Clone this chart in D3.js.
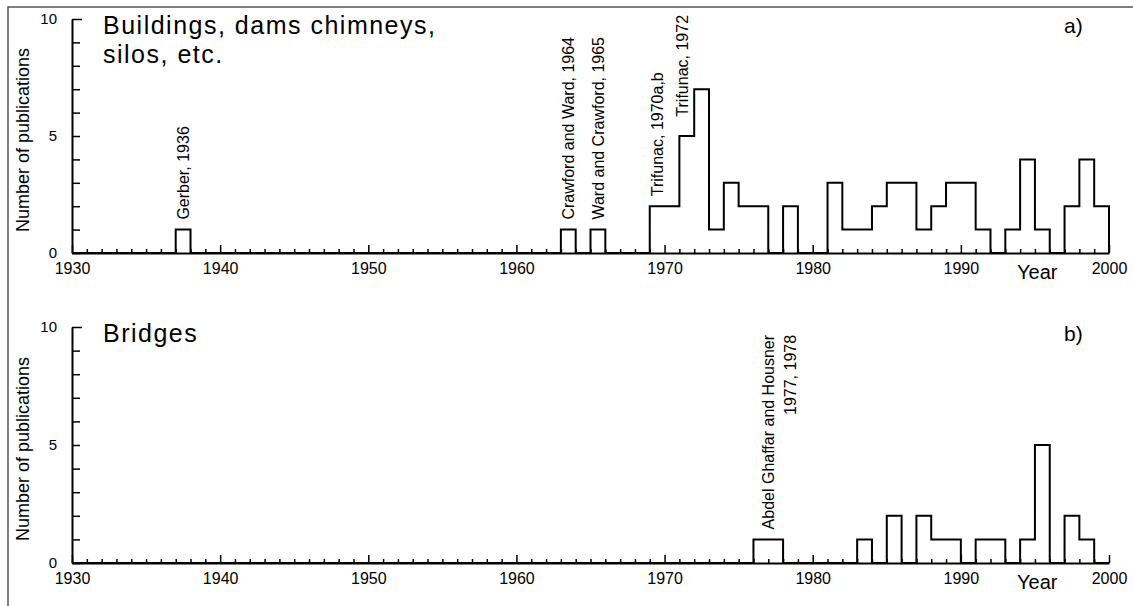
<!DOCTYPE html>
<html>
<head>
<meta charset="utf-8">
<script src="https://cdn.jsdelivr.net/npm/d3@7"></script>
<style>
  body { margin: 0; background: #fff; }
  svg { display: block; font-family: "Liberation Sans", Arial, sans-serif; }
</style>
</head>
<body>
<svg width="1133" height="606"></svg>
<script>
// publications per year, panel a (buildings, dams, chimneys, silos)
const buildYears  = [1937, 1963, 1965, 1969, 1970, 1971, 1972, 1973, 1974, 1975, 1976, 1978,
                     1981, 1982, 1983, 1984, 1985, 1986, 1987, 1988, 1989, 1990, 1991,
                     1993, 1994, 1995, 1997, 1998, 1999];
const buildCounts = [1, 1, 1, 2, 2, 5, 7, 1, 3, 2, 2, 2,
                     3, 1, 1, 2, 3, 3, 1, 2, 3, 3, 1,
                     1, 4, 1, 2, 4, 2];

// publications per year, panel b (bridges)
const bridgeYears  = [1976, 1977, 1983, 1985, 1987, 1988, 1989, 1991, 1992, 1994, 1995, 1997, 1998];
const bridgeCounts = [1, 1, 1, 2, 2, 1, 1, 1, 1, 1, 5, 2, 1];

const decadeLabels = [1930, 1940, 1950, 1960, 1970, 1980, 1990, 2000];
const countLabels = [0, 5, 10];

// annotations: text lines, where along the years they sit, bar height under them
const buildNotes = [
  { lines: ['Gerber, 1936'], year: 1937.5, count: 1 },
  { lines: ['Crawford and Ward, 1964'], year: 1963.5, count: 1 },
  { lines: ['Ward and Crawford, 1965'], year: 1965.5, count: 1 },
  { lines: ['Trifunac, 1970a,b'], year: 1969.5, count: 2 },
  { lines: ['Trifunac, 1972'], year: 1971.2, count: 5.4 }
];
const bridgeNotes = [
  { lines: ['Abdel Ghaffar and Housner', '1977, 1978'], year: 1977, count: 1 }
];

const svg = d3.select('svg');

// scan frame
svg.append('path')
  .attr('d', 'M8,606V7H1133')
  .attr('fill', 'none')
  .attr('stroke', '#555')
  .attr('stroke-width', 1.5);

const x = d3.scaleLinear().domain([1930, 2000]).range([72, 1109]);

function drawPanel(cfg) {
  const y = d3.scaleLinear().domain([0, 10]).range([cfg.bottom, cfg.top]);
  const g = svg.append('g');

  // x axis, ticks pointing up, every year
  const xAxis = g.append('g')
    .attr('transform', `translate(0,${cfg.bottom})`)
    .call(d3.axisBottom(x)
      .tickValues(d3.range(1930, 2001))
      .tickSize(-4)
      .tickSizeOuter(0)
      .tickPadding(10)
      .tickFormat(d => decadeLabels.includes(d) ? d : ''));
  xAxis.selectAll('.tick line')
    .attr('y2', d => decadeLabels.includes(d) ? -8 : -4)
    .attr('stroke-width', 1.5);
  xAxis.select('.domain').attr('stroke-width', 2);
  xAxis.selectAll('text')
    .style('font-size', '16px')
    .style('font-family', '"Liberation Sans", Arial, sans-serif');

  // y axis, ticks pointing right
  const yAxis = g.append('g')
    .attr('transform', `translate(${x(1930)},0)`)
    .call(d3.axisLeft(y)
      .tickValues(d3.range(0, 11))
      .tickSize(-8)
      .tickSizeOuter(0)
      .tickPadding(15)
      .tickFormat(d => countLabels.includes(d) ? d : ''));
  yAxis.selectAll('.tick line')
    .attr('x2', d => d === 10 ? 10 : 8)
    .attr('stroke-width', 1.5);
  yAxis.select('.domain').attr('stroke-width', 2);
  yAxis.selectAll('text')
    .style('font-size', '15px')
    .style('font-family', '"Liberation Sans", Arial, sans-serif');

  // step outline of the histogram
  const counts = new Map(cfg.years.map((yr, i) => [yr, cfg.counts[i]]));
  const pts = d3.range(1930, 2001).map(yr => [yr, counts.get(yr) || 0]);
  g.append('path')
    .datum(pts)
    .attr('fill', 'none')
    .attr('stroke', '#000')
    .attr('stroke-width', 2)
    .attr('d', d3.line()
      .x(d => x(d[0]))
      .y(d => y(d[1]))
      .curve(d3.curveStepAfter));

  // rotated annotations over the bars
  cfg.notes.forEach(n => {
    const ng = g.append('g')
      .attr('transform', `translate(${x(n.year) + 6},${y(n.count) - 10}) rotate(-90)`);
    const first = ng.append('text')
      .attr('font-size', 16)
      .text(n.lines[0]);
    if (n.lines.length > 1) {
      ng.append('text')
        .attr('font-size', 16)
        .attr('x', first.node().getComputedTextLength())
        .attr('y', 22)
        .attr('text-anchor', 'end')
        .text(n.lines[1]);
    }
  });

  // y label
  g.append('text')
    .attr('transform', `translate(29,${(cfg.top + cfg.bottom) / 2 + 4}) rotate(-90)`)
    .attr('text-anchor', 'middle')
    .attr('font-size', 18)
    .text('Number of publications');

  // title lines
  cfg.title.forEach((t, i) => {
    g.append('text')
      .attr('x', 103)
      .attr('y', cfg.top + 15 + i * 29)
      .attr('font-size', 25)
      .attr('letter-spacing', 1.5)
      .text(t);
  });

  g.append('text')
    .attr('x', 1064)
    .attr('y', cfg.top + 14)
    .attr('font-size', 21)
    .text(cfg.tag);

  g.append('text')
    .attr('x', 1017)
    .attr('y', cfg.bottom + 26)
    .attr('font-size', 20)
    .text('Year');
}

drawPanel({
  top: 19, bottom: 253,
  years: buildYears, counts: buildCounts, notes: buildNotes,
  title: ['Buildings, dams chimneys,', 'silos, etc.'], tag: 'a)'
});

drawPanel({
  top: 327, bottom: 563,
  years: bridgeYears, counts: bridgeCounts, notes: bridgeNotes,
  title: ['Bridges'], tag: 'b)'
});
</script>
</body>
</html>
